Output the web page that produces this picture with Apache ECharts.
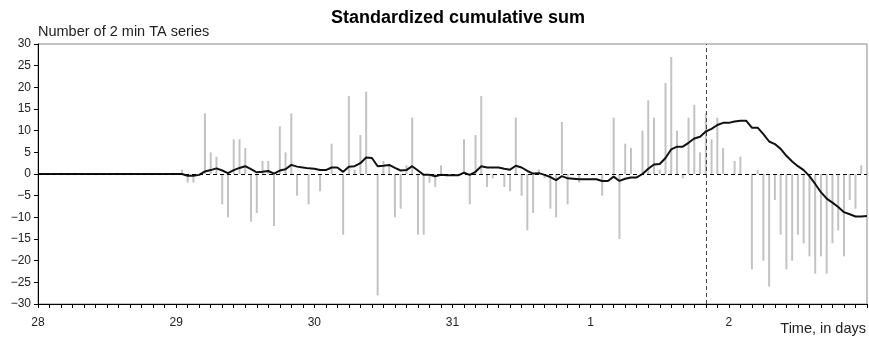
<!DOCTYPE html>
<html>
<head>
<meta charset="utf-8">
<script src="https://cdn.jsdelivr.net/npm/echarts@6/dist/echarts.min.js"></script>
<style>
html,body{margin:0;padding:0;background:#fff;}
#chart{width:869px;height:343px;}
</style>
</head>
<body>
<div id="chart"></div>
<script>
// Day labels at each 24 h boundary (hours counted from the start of day 28)
var dayLabels = ['28', '29', '30', '31', '1', '2'];
// Hourly bar values (number of 2 min TA series), starting at hour 24
var barStartHour = 24;
var barValues = [
  0, 1, -2, -2, 0, 14, 5, 4, -7, -10, 8, 8, 6, -11, -9, 3, 3, -12, 11, 5,
  14, -5, 0, -7, 0, -4, 0, 7, 0, -14, 18, 1, 9, 19, 0, -28, 3, 2, -10, -8,
  2, 13, -14, -14, -2, -3, 2, 0, 0, 0, 8, -7, 9, 18, -3, -1, 0, -3, -4, 13,
  -5, -13, -9, 1, -1, -8, -10, 12, -7, 0, -2, 0, 0, 0, -5, 0, 13, -15, 7, 6,
  0, 10, 17, 13, 1, 21, 27, 10, -1, 13, 16, 5, 14, 8, 13, 6, 0, 3, 4, 0,
  -22, 1, -20, -26, -6, -14, -22, -20, -14, -16, -19, -23, -19, -23, -16, -13, -19, -6, -8, 2
];
// Standardized cumulative sum, hourly from hour 24 (flat at 0 before)
var cumStartHour = 24;
var cumValues = [
  0, 0, -0.4, -0.4, -0.2, 0.6, 0.9, 1.3, 0.8, 0.2, 0.9, 1.4, 1.8, 1.1, 0.4, 0.5, 0.7, 0.1, 0.8, 1.1,
  2.1, 1.7, 1.5, 1.3, 1.2, 0.9, 0.9, 1.5, 1.5, 0.5, 1.7, 1.8, 2.5, 3.8, 3.7, 1.8, 1.9, 2.1, 1.4, 0.8,
  0.9, 1.8, 0.8, -0.2, -0.2, -0.5, -0.2, -0.3, -0.3, -0.3, 0.3, -0.2, 0.5, 1.8, 1.5, 1.5, 1.5, 1.2, 1.0, 1.9,
  1.5, 0.7, 0.1, 0.2, -0.2, -0.7, -1.4, -0.5, -1.0, -1.1, -1.2, -1.2, -1.2, -1.2, -1.6, -1.6, -0.6, -1.6, -1.1, -0.8,
  -0.8, 0, 1.2, 2.2, 2.3, 3.7, 5.7, 6.3, 6.3, 7.2, 8.2, 8.6, 9.8, 10.4, 11.3, 11.8, 11.8, 12.1, 12.3, 12.3,
  10.7, 10.7, 9.2, 7.5, 6.9, 5.8, 4.2, 2.9, 1.8, 0.9, -0.5, -2.3, -4.2, -5.7, -6.6, -7.6, -8.8, -9.3, -9.8, -9.8,
  -9.7
];
var markerHour = 116; // vertical dashed line

var barData = barValues.map(function (v, i) { return [barStartHour + i, v]; });
var lineData = [[0, 0]].concat(cumValues.map(function (v, i) { return [cumStartHour + i, v]; }));

var FONT = '"Liberation Sans", Arial, sans-serif';
var chart = echarts.init(document.getElementById('chart'), null, {renderer: 'canvas'});
chart.setOption({
  animation: false,
  backgroundColor: '#fff',
  title: {
    text: 'Standardized cumulative sum',
    left: 453, top: 4, textAlign: 'center',
    textStyle: {fontFamily: FONT, fontSize: 18, fontWeight: 'bold', color: '#000'}
  },
  graphic: [{
    type: 'text', right: 3, top: 321,
    style: {text: 'Time, in days', font: '14.5px ' + FONT, fill: '#222'}
  }],
  grid: {left: 38, right: 2, top: 44, bottom: 39, show: true, borderColor: '#888', borderWidth: 1},
  xAxis: {
    type: 'value', min: 0, max: 144, interval: 24,
    axisLine: {show: true, onZero: false, lineStyle: {color: '#000', width: 1}},
    axisTick: {show: true, length: 4, lineStyle: {color: '#000'}},
    minorTick: {show: true, splitNumber: 12, length: 4, lineStyle: {color: '#000'}},
    splitLine: {show: false},
    axisLabel: {
      fontFamily: FONT, fontSize: 12, color: '#222', margin: 13, showMaxLabel: false,
      formatter: function (v) { var i = Math.round(v / 24); return dayLabels[i] || ''; }
    }
  },
  yAxis: {
    type: 'value', min: -30, max: 30, interval: 5,
    name: 'Number of 2 min TA series', nameLocation: 'end', nameGap: 5,
    nameTextStyle: {fontFamily: FONT, fontSize: 14.5, color: '#222', align: 'left', verticalAlign: 'bottom'},
    axisLine: {show: true, onZero: false, lineStyle: {color: '#000', width: 1}},
    axisTick: {show: true, length: 4, lineStyle: {color: '#000'}},
    splitLine: {show: false},
    axisLabel: {
      fontFamily: FONT, fontSize: 12, color: '#222', margin: 7,
      formatter: function (v) { return v < 0 ? '\u2212' + Math.abs(v) : String(v); }
    }
  },
  series: [{
    type: 'bar', data: barData, barWidth: 2, barGap: '0%',
    itemStyle: {color: '#c3c3c3'},
    silent: true,
    markLine: {
      silent: true, symbol: ['none', 'none'], label: {show: false},
      data: [
        {yAxis: 0, lineStyle: {type: [4, 3], color: '#000', width: 1}},
        {xAxis: markerHour, lineStyle: {type: [4, 3], color: '#444', width: 1}}
      ]
    },
    z: 2
  }, {
    type: 'line', data: lineData, showSymbol: false, symbol: 'none',
    lineStyle: {color: '#111', width: 2}, z: 3, silent: true
  }]
});
</script>
</body>
</html>
